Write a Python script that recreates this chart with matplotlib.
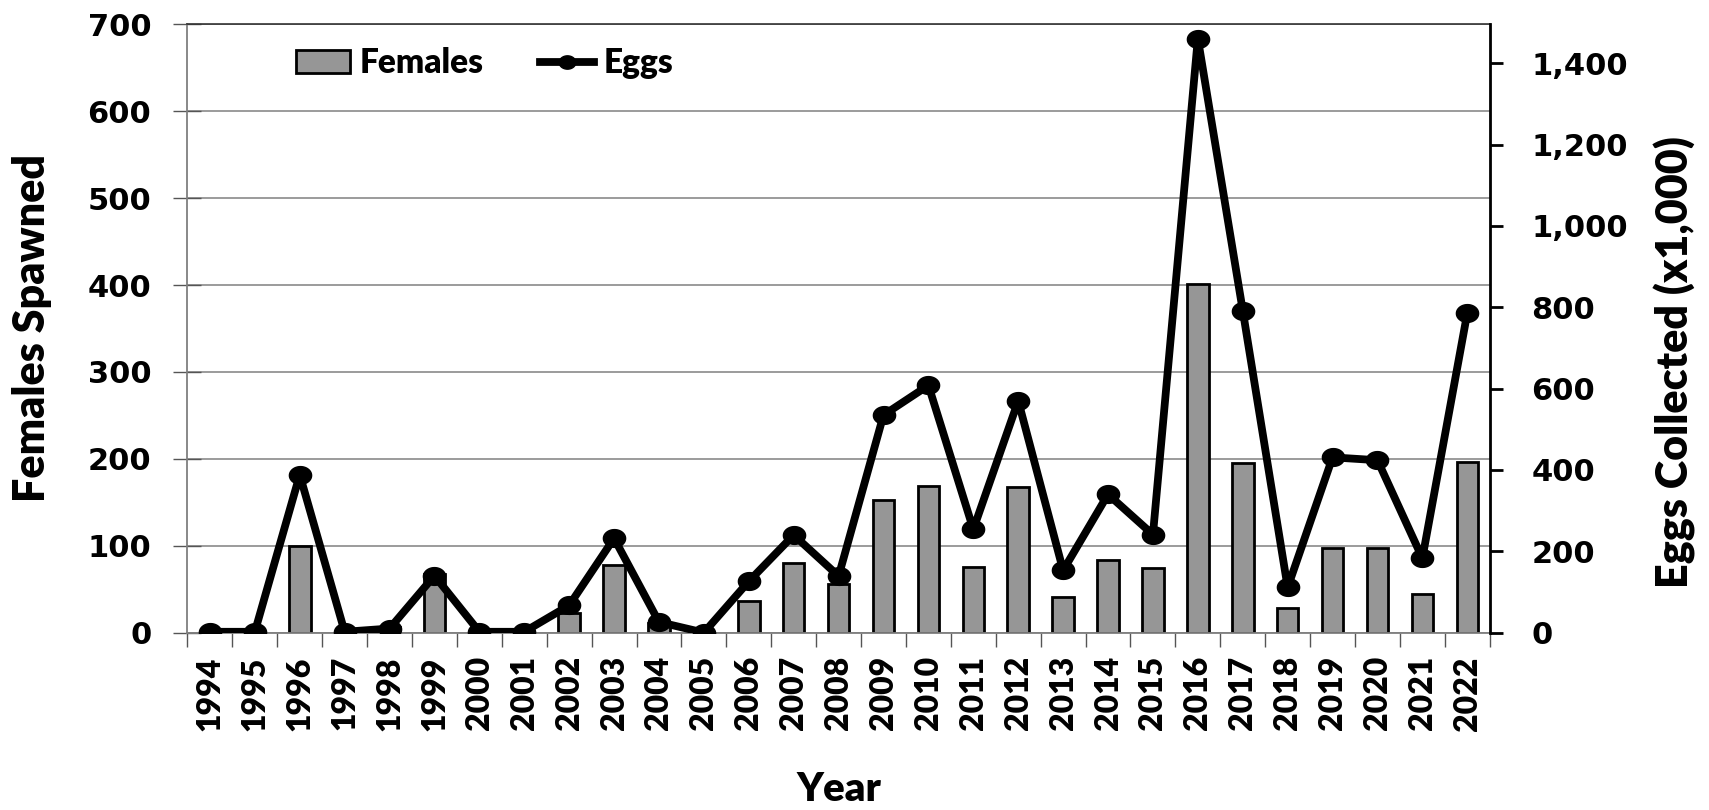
import matplotlib
matplotlib.use("Agg")
import matplotlib.pyplot as plt
import matplotlib.ticker as mticker
from matplotlib import font_manager
from matplotlib.path import Path
import numpy as np

years = list(range(1994, 2023))
females = [0, 0, 100, 0, 6, 68, 0, 0, 23, 78, 11, 0, 36, 80, 56, 153, 169,
           76, 168, 41, 83, 74, 401, 195, 28, 97, 97, 44, 196]
eggs = [2, 2, 388, 2, 10, 140, 2, 2, 67, 232, 26, 0, 126, 240, 139, 535, 608,
        254, 570, 153, 340, 241, 1461, 792, 111, 431, 424, 183, 786]

names = {f.name for f in font_manager.fontManager.ttflist}
narrow = [f for f in ["Liberation Sans Narrow", "Lato", "DejaVu Sans"] if f in names]
heavy = 800

# slightly flattened circle, like the stretched excel markers
t = np.linspace(0, 2 * np.pi, 60)
ellipse = Path(np.column_stack([np.cos(t), 0.8 * np.sin(t)]), closed=True)

fig = plt.figure(figsize=(17.09, 8.10), dpi=100)
ax = fig.add_axes([0.1097, 0.219, 0.762, 0.751])
ax2 = ax.twinx()

x = np.arange(len(years))
ax.bar(x, females, width=0.48, color="#969696", edgecolor="black", linewidth=2,
       label="Females", zorder=2)
ax2.plot(x, eggs, color="black", lw=5.6, marker=ellipse, markersize=16,
         label="Eggs", zorder=3)

ax.set_xlim(-0.5, len(years) - 0.5)
ax.set_ylim(0, 700)
ax2.set_ylim(0, 1496)
ax.set_yticks(range(0, 701, 100))
ax2.set_yticks(range(0, 1401, 200))
ax2.yaxis.set_major_formatter(mticker.StrMethodFormatter("{x:,.0f}"))

ax.yaxis.grid(True, color="#808080", lw=1.1, zorder=0)
ax.set_axisbelow(True)

ax.set_xticks(x)
ax.set_xticklabels([str(y) for y in years], rotation=90, fontsize=23,
                   fontweight=heavy, family=narrow)
ax.set_xticks(np.arange(-0.5, len(years), 1), minor=True)
ax.tick_params(axis="x", which="major", length=0, pad=17)
ax.tick_params(axis="x", which="minor", length=10, width=1, direction="out",
               color="#555555")

for lab in ax.get_yticklabels() + ax2.get_yticklabels():
    lab.set_fontweight("bold")
    lab.set_fontsize(22)
ax.tick_params(axis="y", length=20, width=1, direction="inout", pad=16,
               color="#555555")
ax2.tick_params(axis="y", length=9, width=2, direction="out", pad=21)

for s in ["left", "bottom"]:
    ax.spines[s].set_color("#7f7f7f")
    ax.spines[s].set_linewidth(1.3)
ax.spines["top"].set_color("#333333")
ax.spines["top"].set_linewidth(1.2)
ax2.spines["right"].set_linewidth(2)
for s in ["left", "bottom", "top"]:
    ax2.spines[s].set_visible(False)
ax.spines["right"].set_visible(False)

ax.set_ylabel("Females Spawned", fontsize=31, fontweight=heavy, family=narrow)
ax.yaxis.set_label_coords(-0.104, 0.5)
ax2.set_ylabel("Eggs Collected (x1,000)", fontsize=31, fontweight=heavy,
               family=narrow)
ax2.yaxis.set_label_coords(1.126, 0.445)
ax.set_xlabel("Year", fontsize=29, fontweight=heavy, family=narrow)
ax.xaxis.set_label_coords(0.5, -0.228)

h1, l1 = ax.get_legend_handles_labels()
h2, l2 = ax2.get_legend_handles_labels()
ax2.legend(h1 + h2, l1 + l2, loc="center left", bbox_to_anchor=(0.0605, 0.936),
           ncol=2, frameon=False,
           prop={"family": narrow, "weight": heavy, "size": 24},
           handlelength=1.6, handletextpad=0.3, columnspacing=1.7,
           markerscale=0.75)

fig.savefig("out.png", dpi=100)
